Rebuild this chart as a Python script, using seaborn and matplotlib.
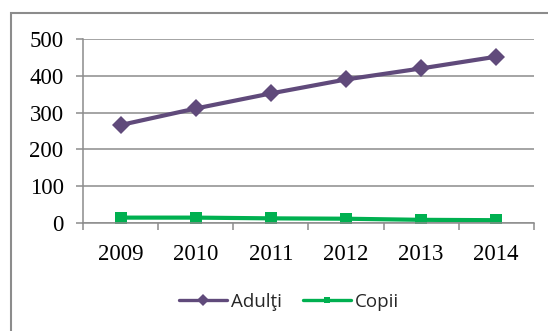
import matplotlib
matplotlib.use("Agg")
import matplotlib.pyplot as plt
import seaborn as sns
import pandas as pd
from matplotlib.patches import Rectangle
from matplotlib.ticker import FixedLocator
from matplotlib.lines import Line2D

years = ["2009", "2010", "2011", "2012", "2013", "2014"]
adulti = [266, 311, 352, 390, 420, 452]
copii = [14, 14, 12, 11, 8, 7]
series_names = ["Adulţi", "Copii"]
colors = ["#604A7B", "#00B050"]
y_ticks = [0, 100, 200, 300, 400, 500]

df = pd.DataFrame({
    "An": years * 2,
    "Valoare": adulti + copii,
    "Serie": [series_names[0]] * len(years) + [series_names[1]] * len(years),
})

sns.set_style("white")
fig = plt.figure(figsize=(5.48, 3.31), dpi=100)
ax = fig.add_axes([0.1515, 0.327, 0.974 - 0.1515, 0.882 - 0.327])

sns.lineplot(data=df, x="An", y="Valoare", hue="Serie", style="Serie",
             palette=colors, markers={"Adulţi": "D", "Copii": "s"},
             dashes=False, linewidth=3, markersize=9, markeredgewidth=0,
             ax=ax, legend=False)
for line, ms in zip(ax.get_lines(), [9.5, 8]):
    line.set_markersize(ms)

ax.set_xlim(-0.5, 5.5)
ax.set_ylim(0, 500)
ax.set_yticks(y_ticks)
ax.set_xlabel("")
ax.set_ylabel("")
ax.grid(axis="y", color="#8c8c8c", linewidth=1.1)
ax.grid(axis="x", visible=False)
ax.set_axisbelow(True)

for s in ["top", "right"]:
    ax.spines[s].set_visible(False)
for s in ["left", "bottom"]:
    ax.spines[s].set_color("#8c8c8c")
    ax.spines[s].set_linewidth(1.1)

ax.xaxis.set_minor_locator(FixedLocator([i - 0.5 for i in range(len(years) + 1)]))
ax.tick_params(axis="x", which="major", length=0, pad=15)
ax.tick_params(axis="x", which="minor", length=5, width=1.1, color="#8c8c8c", direction="out", bottom=True)
ax.tick_params(axis="y", which="major", length=5, width=1.1, color="#8c8c8c", direction="out", left=True, pad=9)

serif = ["Liberation Serif", "DejaVu Serif"]
for lab in ax.get_xticklabels() + ax.get_yticklabels():
    lab.set_family(serif)
    lab.set_fontsize(16.5)
    lab.set_color("black")

handles = [
    Line2D([], [], color=colors[0], lw=2.4, marker="D", markersize=6, markeredgewidth=0),
    Line2D([], [], color=colors[1], lw=2.4, marker="s", markersize=5, markeredgewidth=0),
]
fig.legend(handles, series_names, loc="center", bbox_to_anchor=(289 / 548, 1 - 302 / 331),
           ncol=2, frameon=False, handlelength=2.6, handletextpad=0.2,
           columnspacing=1.1, prop={"family": ["Open Sans", "DejaVu Sans"], "size": 13.5})

fig.patches.append(Rectangle((10.5 / 548, -0.2), 1.2, 1.2 - 12.7 / 331,
                             transform=fig.transFigure, fill=False,
                             edgecolor="#8c8c8c", linewidth=1.5, zorder=0))

fig.savefig("out.png", dpi=100)
